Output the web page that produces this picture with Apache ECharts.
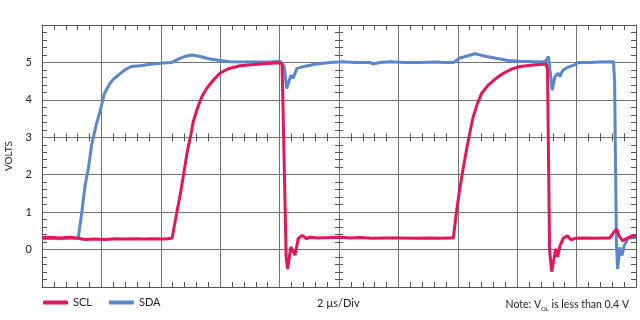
<!DOCTYPE html>
<html lang="en">
  <head>
    <meta charset="UTF-8" />
    <title>SCL / SDA timing</title>
    <style type="text/css">
      body {
        margin: 0;
        background-color: #fff;
      }

      #main {
        width: 640px;
        height: 320px;
      }
    </style>
  </head>
  <body>
    <div id="main"></div>
    <script src="https://cdn.jsdelivr.net/npm/echarts@6/dist/echarts.min.js"></script>
    <script type="text/javascript">
      // time in µs (2 µs per division), level in volts
      var sclTime = [0, 0.27, 0.61, 0.94, 1.21, 1.45, 1.78, 2.12, 2.46, 2.79, 3.13, 3.47, 3.8, 4.14, 4.38,
        4.54, 4.67, 4.78, 4.89, 5.01, 5.09, 5.23, 5.38, 5.55, 5.77, 5.99, 6.27, 6.67, 7.34, 8.01, 8.08,
        8.11, 8.22, 8.27, 8.38, 8.52, 8.63, 8.76, 8.91, 9.02, 9.29, 9.7, 10.03, 10.37, 10.71, 11.11,
        11.55, 12.05, 12.56, 13.06, 13.4, 13.67, 13.85, 13.94, 14.05, 14.17, 14.3, 14.41, 14.52, 14.66,
        14.8, 15.03, 15.25, 15.53, 15.81, 16.09, 16.54, 16.97, 17.02, 17.09, 17.16, 17.3, 17.36, 17.44,
        17.55, 17.69, 17.81, 17.95, 18.28, 18.62, 18.96, 19.12, 19.24, 19.35, 19.43, 19.54, 19.69, 19.86, 20];
      var sclVolts = [0.32, 0.33, 0.31, 0.33, 0.3, 0.27, 0.28, 0.27, 0.29, 0.28, 0.29, 0.28, 0.29, 0.28, 0.3,
        1.0, 1.54, 2.07, 2.61, 3.06, 3.41, 3.77, 4.08, 4.31, 4.53, 4.71, 4.83, 4.91, 4.96, 4.99, 4.97,
        4.0, -0.2, -0.52, 0.07, -0.15, 0.3, 0.38, 0.29, 0.33, 0.31, 0.32, 0.33, 0.31, 0.32, 0.3,
        0.31, 0.31, 0.3, 0.31, 0.3, 0.31, 0.31, 0.91, 1.54, 2.12, 2.7, 3.14, 3.55, 3.9,
        4.17, 4.4, 4.55, 4.71, 4.82, 4.89, 4.93, 4.96, 4.8, 0.0, -0.59, 0.02, -0.2, 0.1,
        0.3, 0.37, 0.26, 0.3, 0.31, 0.3, 0.31, 0.31, 0.45, 0.55, 0.37, 0.24, 0.3, 0.36, 0.35];

      var sdaTime = [0, 0.27, 0.61, 0.94, 1.22, 1.34, 1.45, 1.56, 1.67, 1.82, 1.95, 2.1, 2.29, 2.4, 2.57,
        2.79, 3.0, 3.3, 3.64, 3.97, 4.37, 4.59, 4.81, 5.04, 5.32, 5.66, 5.99, 6.33, 7.0, 7.68, 8.01,
        8.07, 8.15, 8.24, 8.38, 8.46, 8.58, 8.86, 9.19, 9.7, 10.13, 10.54, 11.04, 11.14, 11.38, 11.72,
        12.22, 12.73, 13.23, 13.57, 13.85, 14.07, 14.58, 14.97, 15.42, 15.7, 16.09, 16.6, 16.94, 17.05,
        17.18, 17.27, 17.38, 17.44, 17.52, 17.67, 17.95, 18.06, 18.45, 18.79, 19.24, 19.28, 19.34, 19.38,
        19.46, 19.53, 19.6, 19.73, 20];
      var sdaVolts = [0.28, 0.3, 0.29, 0.3, 0.3, 1.0, 1.71, 2.16, 2.79, 3.32, 3.68, 4.17, 4.44, 4.55, 4.66,
        4.8, 4.89, 4.91, 4.95, 4.98, 5.0, 5.09, 5.16, 5.2, 5.16, 5.09, 5.05, 5.02, 5.01, 5.01, 5.03,
        5.05, 4.9, 4.3, 4.66, 4.58, 4.84, 4.9, 4.95, 5.0, 5.02, 5.0, 5.0, 4.96, 5.0, 5.02,
        5.0, 5.0, 5.01, 5.0, 5.0, 5.12, 5.23, 5.16, 5.09, 5.05, 5.03, 5.02, 5.02, 5.16,
        4.26, 4.62, 4.71, 4.62, 4.77, 4.86, 4.94, 5.0, 5.0, 5.01, 5.02, 4.5, 0.2, -0.52,
        0.06, -0.16, 0.1, 0.3, 0.32];

      function pairs(xs, ys) {
        return xs.map(function (x, i) {
          return [x, ys[i]];
        });
      }

      var chartDom = document.getElementById("main");
      var myChart = echarts.init(chartDom, null, { renderer: "canvas" });

      var fontName = "Lato";
      var frame = "#555";
      var gridColor = "#727272";
      var minor = { show: true, splitNumber: 5, length: 5, lineStyle: { color: frame, width: 1 } };
      var centreMinor = { show: true, splitNumber: 5, length: 8, lineStyle: { color: frame, width: 1 } };

      function xAx(extra) {
        return Object.assign({
          type: "value", min: 0, max: 20, interval: 2,
          axisLabel: { show: false }, axisTick: { show: false, inside: true },
          axisLine: { show: true, onZero: false, lineStyle: { color: frame, width: 1 } },
          splitLine: { show: false }
        }, extra);
      }
      function yAx(extra) {
        return Object.assign({
          type: "value", min: -1, max: 6, interval: 1,
          axisLabel: { show: false }, axisTick: { show: false, inside: true },
          axisLine: { show: true, onZero: false, lineStyle: { color: frame, width: 1 } },
          splitLine: { show: false }
        }, extra);
      }

      var option = {
        animation: false,
        textStyle: { fontFamily: fontName },
        grid: { left: 42, right: 4, top: 25, bottom: 33, containLabel: false, outerBoundsMode: "none" },
        title: [
          {
            text: "2 µs/Div", left: 317, top: 298, padding: 0,
            textStyle: { fontSize: 11, fontWeight: "normal", color: "#222", fontFamily: fontName }
          },
          {
            text: "{a|Note: V}{s|OL}{a| is less than 0.4 V}", right: 11, top: 298, padding: 0,
            textStyle: {
              fontSize: 10.5, fontWeight: "normal", color: "#222", fontFamily: fontName,
              rich: {
                a: { fontSize: 10.5, color: "#222", fontFamily: fontName, lineHeight: 14 },
                s: { fontSize: 6, color: "#222", fontFamily: fontName, lineHeight: 6, verticalAlign: "bottom" }
              }
            }
          }
        ],
        legend: {
          left: 43, top: 297, padding: 0, itemGap: 17, itemWidth: 25, itemHeight: 4,
          icon: "roundRect",
          textStyle: { fontSize: 11, color: "#222", fontFamily: fontName },
          data: ["SCL", "SDA"]
        },
        xAxis: [
          xAx({ position: "bottom", minorTick: minor,
            splitLine: { show: true, lineStyle: { color: gridColor, width: 1 } } }),
          xAx({ position: "top", minorTick: minor }),
          // tick marks across the centre horizontal line (3 V)
          xAx({ position: "bottom", offset: -153.7, axisLine: { show: false, onZero: false },
            axisTick: { show: false, inside: false }, minorTick: centreMinor })
        ],
        yAxis: [
          yAx({
            position: "left", minorTick: minor,
            name: "VOLTS", nameLocation: "middle", nameGap: 28, nameRotate: 90,
            nameTextStyle: { fontSize: 10, color: "#222", fontFamily: fontName },
            axisLabel: {
              show: true, margin: 10, fontSize: 11, color: "#222", fontFamily: fontName,
              formatter: function (v) { return v < 0 || v > 5 ? "" : String(v); }
            },
            splitLine: { show: true, lineStyle: { color: gridColor, width: 1 } }
          }),
          yAx({ position: "right", minorTick: minor }),
          // tick marks across the centre vertical line (10 µs)
          yAx({ position: "left", offset: -301, axisLine: { show: false, onZero: false },
            axisTick: { show: false, inside: false }, minorTick: centreMinor })
        ],
        series: [
          {
            name: "SCL", type: "line", xAxisIndex: 0, yAxisIndex: 0, z: 4,
            showSymbol: false, symbol: "none", smooth: false,
            lineStyle: { color: "#E2165B", width: 3 }, itemStyle: { color: "#E2165B" },
            data: pairs(sclTime, sclVolts)
          },
          {
            name: "SDA", type: "line", xAxisIndex: 0, yAxisIndex: 0, z: 3,
            showSymbol: false, symbol: "none", smooth: false,
            lineStyle: { color: "#5B86C9", width: 3 }, itemStyle: { color: "#5B86C9" },
            data: pairs(sdaTime, sdaVolts)
          }
        ]
      };

      myChart.setOption(option);
    </script>
  </body>
</html>
